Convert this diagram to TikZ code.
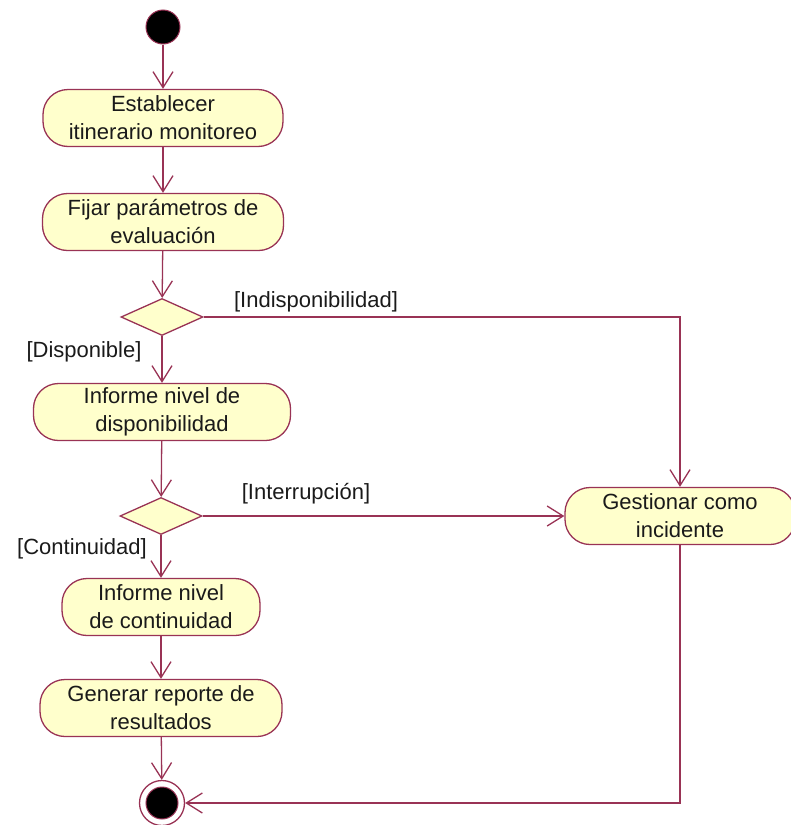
\documentclass[tikz,border=0pt]{standalone}
\usepackage{fontspec}
\setmainfont{Liberation Sans}
\usetikzlibrary{arrows.meta,shapes.geometric}
\definecolor{edge}{HTML}{993355}
\definecolor{actfill}{HTML}{FFFFCC}
\definecolor{ink}{HTML}{1A1A1A}
\begin{document}
\begin{tikzpicture}[x=1pt,y=-1pt,
  activity/.style={draw=edge, fill=actfill, line width=1.3pt, rounded corners=25pt,
    align=center, inner sep=0pt, minimum height=57pt, text=ink,
    font=\fontsize{22}{28}\selectfont},
  decision/.style={diamond, draw=edge, fill=actfill, line width=1.3pt,
    minimum width=82pt, minimum height=37pt, inner sep=0pt},
  guard/.style={text=ink, inner sep=0pt, font=\fontsize{22}{26}\selectfont},
  flow/.style={draw=edge, line width=1.3pt, -{Straight Barb[length=16pt,width=20pt]}}]
\useasboundingbox (0,0) rectangle (791,825);

% initial and final states
\node[circle, fill=black, draw=edge, line width=1pt, minimum size=34pt, inner sep=0pt] (start) at (163,27) {};
\node[circle, fill=white, draw=edge, line width=1.3pt, minimum size=45pt, inner sep=0pt] (stop) at (162,803) {};
\node[circle, fill=black, draw=edge, line width=1pt, minimum size=32pt, inner sep=0pt] (stopdot) at (stop) {};

% activities
\node[activity, minimum width=240pt] (a1) at (163,118) {Establecer\\itinerario monitoreo};
\node[activity, minimum width=241pt] (a2) at (163,222) {Fijar parámetros de\\evaluación};
\node[decision] (d1) at (162,317) {};
\node[activity, minimum width=257pt] (a3) at (162,412) {Informe nivel de\\disponibilidad};
\node[decision] (d2) at (161,516) {};
\node[activity, minimum width=198pt] (a4) at (161,607) {Informe nivel\\de continuidad};
\node[activity, minimum width=242pt] (a5) at (161,708) {Generar reporte de\\resultados};
\node[activity, minimum width=230pt] (g) at (680,516) {Gestionar como\\incidente};

% guard labels
\node[guard] (lind) at (316,302) {[Indisponibilidad]};
\node[guard] (ldisp) at (84,352) {[Disponible]};
\node[guard] (lint) at (306,494) {[Interrupción]};
\node[guard] (lcont) at (82,549) {[Continuidad]};

% transitions
\draw[flow] (start) -- (a1);
\draw[flow] (a1) -- (a2);
\draw[flow] (a2) -- (d1);
\draw[flow] (d1) -- (a3);
\draw[flow] (d1.east) -| (g.north);
\draw[flow] (a3) -- (d2);
\draw[flow] (d2.east) -- (g.west);
\draw[flow] (d2) -- (a4);
\draw[flow] (a4) -- (a5);
\draw[flow] (a5) -- (stop);
\draw[flow] (g.south) |- (stop.east);
\end{tikzpicture}
\end{document}
